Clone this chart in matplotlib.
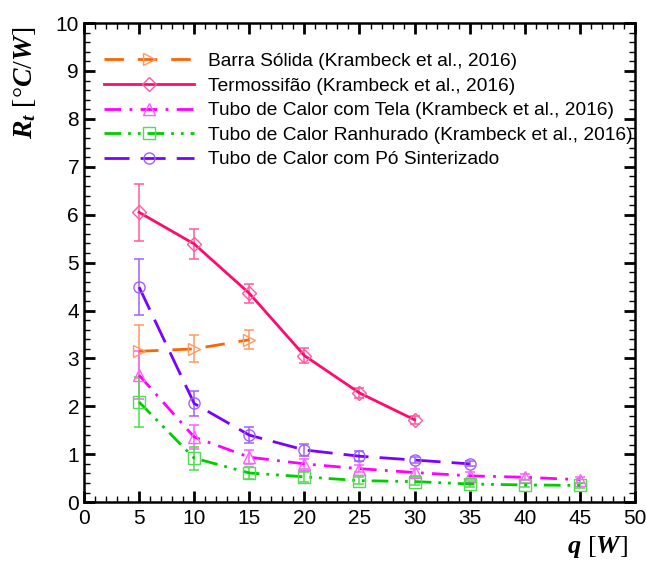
import numpy as np
import matplotlib
matplotlib.use("Agg")
import matplotlib.pyplot as plt
from matplotlib.ticker import MultipleLocator

plt.rcParams["font.family"] = ["Liberation Sans", "DejaVu Sans"]
plt.rcParams["mathtext.fontset"] = "custom"
plt.rcParams["mathtext.rm"] = "Liberation Serif"
plt.rcParams["mathtext.it"] = "Liberation Serif:italic:bold"
plt.rcParams["mathtext.bf"] = "Liberation Serif:bold"

# data
q_barra = [5, 10, 15]
r_barra = [3.15, 3.20, 3.39]
e_barra = [0.55, 0.28, 0.20]

q_termo = [5, 10, 15, 20, 25, 30]
r_termo = [6.05, 5.39, 4.36, 3.06, 2.28, 1.72]
e_termo = [0.60, 0.31, 0.20, 0.16, 0.10, 0.08]

q_tela = [5, 10, 15, 20, 25, 30, 35, 40, 45]
r_tela = [2.65, 1.36, 0.94, 0.80, 0.70, 0.62, 0.55, 0.52, 0.47]
e_tela = [0.50, 0.25, 0.15, 0.10, 0.08, 0.07, 0.07, 0.06, 0.06]

q_ranh = [5, 10, 15, 20, 25, 30, 35, 40, 45]
r_ranh = [2.09, 0.92, 0.61, 0.53, 0.45, 0.43, 0.38, 0.36, 0.35]
e_ranh = [0.52, 0.24, 0.13, 0.10, 0.08, 0.07, 0.06, 0.05, 0.05]

q_po = [5, 10, 15, 20, 25, 30, 35]
r_po = [4.49, 2.06, 1.40, 1.09, 0.96, 0.88, 0.80]
e_po = [0.58, 0.27, 0.17, 0.12, 0.10, 0.07, 0.05]

series = [
    ("Barra Sólida (Krambeck et al., 2016)", q_barra, r_barra, e_barra,
     "#ff6400", "#ff9a60", ">", (0, (7, 5))),
    ("Termossifão (Krambeck et al., 2016)", q_termo, r_termo, e_termo,
     "#ff0a6e", "#ff5a9e", "D", "-"),
    ("Tubo de Calor com Tela (Krambeck et al., 2016)", q_tela, r_tela, e_tela,
     "#ff00ff", "#ff60ff", "^", (0, (6, 3, 1, 3))),
    ("Tubo de Calor Ranhurado (Krambeck et al., 2016)", q_ranh, r_ranh, e_ranh,
     "#00cc00", "#50dd50", "s", (0, (6, 2.5, 1, 2.5, 1, 2.5))),
    ("Tubo de Calor com Pó Sinterizado", q_po, r_po, e_po,
     "#7a00ff", "#a060ff", "o", (0, (9, 4))),
]

fig = plt.figure(figsize=(6.46, 5.63), dpi=100)
ax = fig.add_axes([0.130, 0.108, 0.853, 0.851])

for lab, q, r, e, c, ce, mk, ls in series:
    ax.errorbar(q, r, yerr=e, fmt="none", ecolor=ce, elinewidth=1.1, capsize=3.5,
                capthick=1.1, zorder=2)
    ax.plot(q, r, color=c, ls=ls, lw=2.0, marker=mk, ms=8 if mk != "D" else 7,
            mfc="none", mec=ce, mew=1.0, label=lab, zorder=3)

ax.set_xlim(0, 50)
ax.set_ylim(0, 10)
ax.xaxis.set_major_locator(MultipleLocator(5))
ax.xaxis.set_minor_locator(MultipleLocator(1))
ax.yaxis.set_major_locator(MultipleLocator(1))
ax.yaxis.set_minor_locator(MultipleLocator(0.2))
ax.tick_params(which="both", direction="in", top=True, right=True, labelsize=15)
ax.tick_params(which="major", length=8, width=2)
ax.tick_params(which="minor", length=4, width=1)
ax.tick_params(axis="x", pad=5)
for s in ax.spines.values():
    s.set_linewidth(1.8)

ax.legend(loc="upper left", bbox_to_anchor=(0.036, 0.938), frameon=False, fontsize=13.8,
          handlelength=4.7, handletextpad=0.75, labelspacing=0.37, borderpad=0,
          borderaxespad=0, numpoints=1)

fig.text(0.925, 0.028, r"$q\ [W]$", fontsize=19, ha="center", va="center")
fig.text(0.038, 0.852, r"$R_t\ [°C/W]$", fontsize=20, ha="center", va="center",
         rotation=90)

fig.savefig("out.png", dpi=100)
